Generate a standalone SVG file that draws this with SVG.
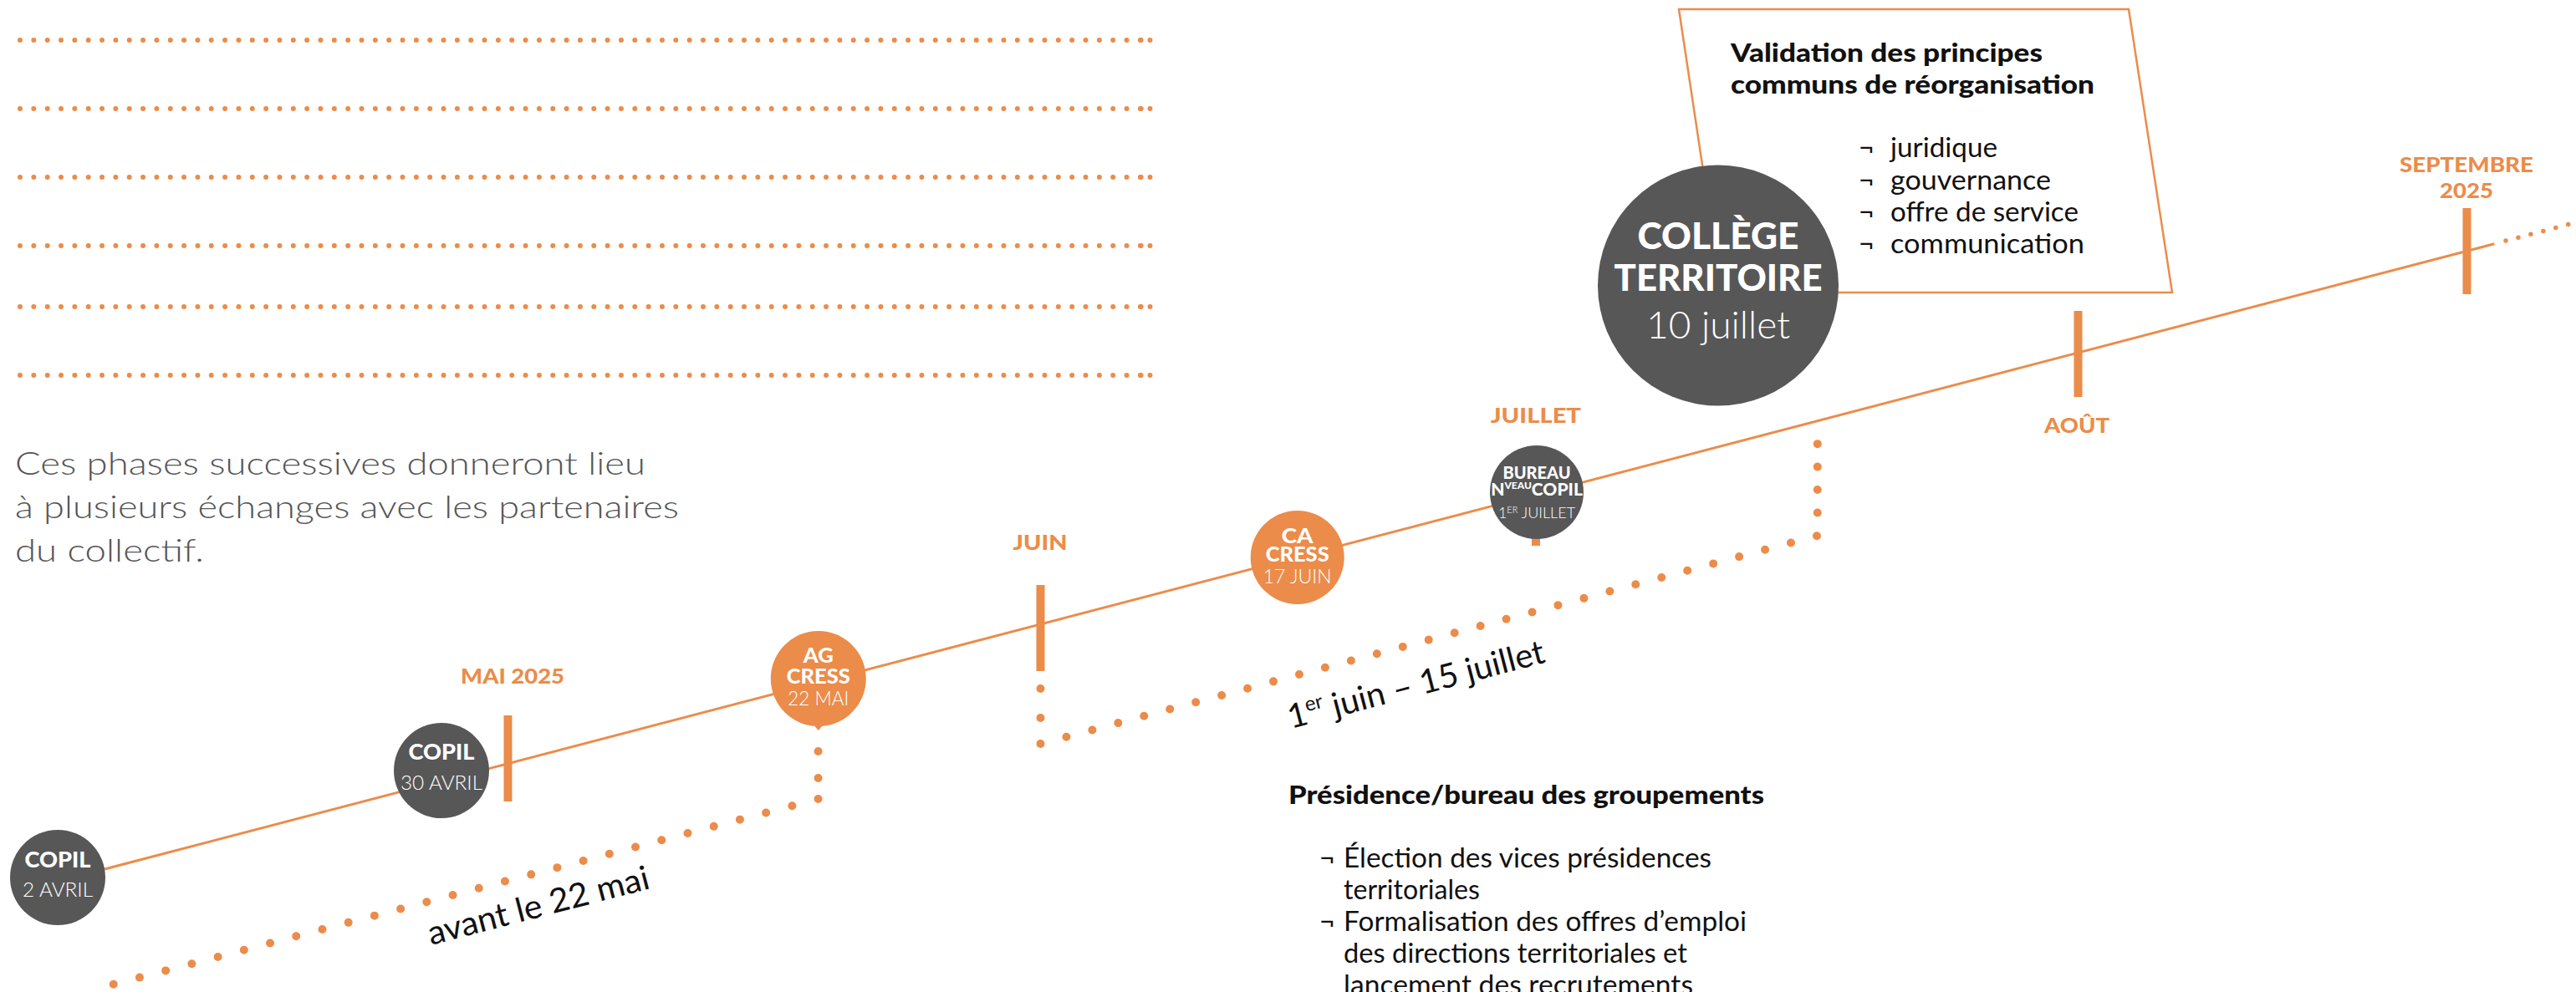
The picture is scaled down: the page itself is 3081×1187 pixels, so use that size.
<svg xmlns="http://www.w3.org/2000/svg" width="3081" height="1187" viewBox="0 0 3081 1187">
<style>
.dot{fill:none;stroke:#EB8C4A;stroke-linecap:round}
.tl{stroke:#EB8C4A;stroke-width:3;fill:none}
.tick{fill:#EB8C4A}
.month{font-family:Lato,'Open Sans',sans-serif;font-weight:900;fill:#EB8C4A;text-anchor:middle;font-size:25px}
.cg{fill:#575757}
.co{fill:#EB8C4A}
.ct{font-family:Lato,'Open Sans',sans-serif;fill:#fff;text-anchor:middle}
.b{font-weight:900}
.l{font-weight:300}
.body{font-family:Lato,'Open Sans',sans-serif;fill:#111}
.para{font-family:Lato,'Open Sans',sans-serif;font-weight:300;fill:#555;font-size:38px}
</style>
<rect width="3081" height="1187" fill="#fff"/>

<g id="header-dotted-lines">
<path class="dot" stroke-width="6" stroke-dasharray="0 16.34" d="M24 48H1364.7M24 130H1364.7M24 212H1364.7M24 294H1364.7M24 367H1364.7M24 449H1364.7"/>
<g fill="#EB8C4A"><circle cx="1364.7" cy="48" r="3"/><circle cx="1364.7" cy="130" r="3"/><circle cx="1364.7" cy="212" r="3"/><circle cx="1364.7" cy="294" r="3"/><circle cx="1364.7" cy="367" r="3"/><circle cx="1364.7" cy="449" r="3"/>
<circle cx="1375.5" cy="48" r="3"/><circle cx="1375.5" cy="130" r="3"/><circle cx="1375.5" cy="212" r="3"/><circle cx="1375.5" cy="294" r="3"/><circle cx="1375.5" cy="367" r="3"/><circle cx="1375.5" cy="449" r="3"/></g>
</g>

<g id="intro-text">
<text class="para" x="18" y="568" textLength="754" lengthAdjust="spacingAndGlyphs">Ces phases successives donneront lieu</text>
<text class="para" x="18" y="620" textLength="794" lengthAdjust="spacingAndGlyphs">à plusieurs échanges avec les partenaires</text>
<text class="para" x="18" y="672" textLength="226" lengthAdjust="spacingAndGlyphs">du collectif.</text>
</g>

<g id="connectors">
<path class="tl" d="M125 1040L2983.4 291.7"/>
<path class="dot" stroke-width="5.5" stroke-dasharray="0 15.45" d="M2997 288.1L3072 268.5"/>
<path class="dot" stroke-width="10" stroke-dasharray="0 31.95" d="M978.6 899V931"/>
<path class="dot" stroke-width="10" stroke-dasharray="0 32.28" d="M978.6 956L135 1178"/>
<path class="dot" stroke-width="10" stroke-dasharray="0 34.95" d="M1244.5 824V859"/>
<path class="dot" stroke-width="10" stroke-dasharray="0 32.04" d="M1244.5 890L2173.8 641"/>
<path class="dot" stroke-width="10" stroke-dasharray="0 27.45" d="M2173.8 613.5V531"/>
</g>

<g id="ticks">
<rect class="tick" x="602.5" y="856" width="10" height="103"/>
<rect class="tick" x="1239.5" y="700" width="10" height="103"/>
<rect class="tick" x="1832" y="550" width="10" height="103"/>
<rect class="tick" x="2480.5" y="372" width="10" height="103"/>
<rect class="tick" x="2945.5" y="249" width="10" height="103"/>
</g>

<g id="month-labels">
<text class="month" x="613" y="818" textLength="124" lengthAdjust="spacingAndGlyphs">MAI 2025</text>
<text class="month" x="1244" y="658" textLength="65" lengthAdjust="spacingAndGlyphs">JUIN</text>
<text class="month" x="1837" y="506" textLength="108" lengthAdjust="spacingAndGlyphs">JUILLET</text>
<text class="month" x="2484" y="518" textLength="78" lengthAdjust="spacingAndGlyphs">AOÛT</text>
<text class="month" x="2950" y="206" textLength="160" lengthAdjust="spacingAndGlyphs">SEPTEMBRE</text>
<text class="month" x="2950" y="237" textLength="64" lengthAdjust="spacingAndGlyphs">2025</text>
</g>

<g id="node-copil-2-avril">
<circle class="cg" cx="69" cy="1050" r="57"/>
<text class="ct b" x="69" y="1038" font-size="26" textLength="79" lengthAdjust="spacingAndGlyphs">COPIL</text>
<text class="ct l" x="69" y="1073" font-size="23" textLength="84" lengthAdjust="spacingAndGlyphs">2 AVRIL</text>
</g>

<g id="node-copil-30-avril">
<circle class="cg" cx="528" cy="922" r="57"/>
<text class="ct b" x="528" y="909" font-size="26" textLength="79" lengthAdjust="spacingAndGlyphs">COPIL</text>
<text class="ct l" x="528" y="945" font-size="23" textLength="98" lengthAdjust="spacingAndGlyphs">30 AVRIL</text>
</g>

<g id="node-ag-cress">
<circle class="co" cx="978.8" cy="812" r="57"/>
<path class="co" d="M972 866L978.8 874L985.6 866Z"/>
<text class="ct b" x="978.8" y="793" font-size="24" textLength="36" lengthAdjust="spacingAndGlyphs">AG</text>
<text class="ct b" x="978.8" y="818" font-size="24" textLength="76" lengthAdjust="spacingAndGlyphs">CRESS</text>
<text class="ct l" x="978.8" y="844" font-size="23" textLength="73" lengthAdjust="spacingAndGlyphs">22 MAI</text>
</g>

<g id="node-ca-cress">
<circle class="co" cx="1551.7" cy="667" r="56"/>
<text class="ct b" x="1551.7" y="650" font-size="24" textLength="38" lengthAdjust="spacingAndGlyphs">CA</text>
<text class="ct b" x="1551.7" y="672" font-size="24" textLength="76" lengthAdjust="spacingAndGlyphs">CRESS</text>
<text class="ct l" x="1551.7" y="698" font-size="23" textLength="82" lengthAdjust="spacingAndGlyphs">17 JUIN</text>
</g>

<g id="node-bureau">
<circle class="cg" cx="1838" cy="589" r="56"/>
<text class="ct b" x="1838" y="573" font-size="20" textLength="81" lengthAdjust="spacingAndGlyphs">BUREAU</text>
<text class="ct b" x="1838" y="593" font-size="21">N<tspan font-size="12" dy="-8">VEAU</tspan><tspan dy="8">COPIL</tspan></text>
<text class="ct l" x="1838" y="620" font-size="18">1<tspan font-size="11" dy="-6">ER</tspan><tspan dy="6"> JUILLET</tspan></text>
</g>

<g id="node-validation-box">
<polygon points="2008,11 2546,11 2598,350 2059,350" fill="#fff" stroke="#EB8C4A" stroke-width="2.5"/>
<text class="body b" x="2070" y="74" font-size="30" textLength="373" lengthAdjust="spacingAndGlyphs">Validation des principes</text>
<text class="body b" x="2070" y="112" font-size="30" textLength="435" lengthAdjust="spacingAndGlyphs">communs de réorganisation</text>
<g class="body" font-size="32">
<text x="2223" y="188">¬</text><text x="2261" y="188" textLength="128" lengthAdjust="spacingAndGlyphs">juridique</text>
<text x="2223" y="227">¬</text><text x="2261" y="227" textLength="192" lengthAdjust="spacingAndGlyphs">gouvernance</text>
<text x="2223" y="265">¬</text><text x="2261" y="265" textLength="225" lengthAdjust="spacingAndGlyphs">offre de service</text>
<text x="2223" y="303">¬</text><text x="2261" y="303" textLength="232" lengthAdjust="spacingAndGlyphs">communication</text>
</g>
</g>

<g id="node-college-territoire">
<circle class="cg" cx="2055" cy="341.5" r="144"/>
<text class="ct b" x="2055" y="298" font-size="43" textLength="193" lengthAdjust="spacingAndGlyphs">COLLÈGE</text>
<text class="ct b" x="2055" y="348" font-size="43" textLength="249" lengthAdjust="spacingAndGlyphs">TERRITOIRE</text>
<text class="ct l" x="2055" y="405" font-size="45" textLength="172" lengthAdjust="spacingAndGlyphs">10 juillet</text>
</g>

<g id="period-labels">
<text class="body" font-size="40" transform="translate(515.6 1131) rotate(-14.5)" textLength="272" lengthAdjust="spacingAndGlyphs">avant le 22 mai</text>
<text class="body" font-size="40" transform="translate(1544 872) rotate(-14.6)" textLength="316" lengthAdjust="spacingAndGlyphs">1<tspan font-size="24" dy="-15">er</tspan><tspan dy="15"> juin – 15 juillet</tspan></text>
</g>

<g id="node-presidence">
<text class="body b" x="1541" y="962" font-size="30" textLength="569" lengthAdjust="spacingAndGlyphs">Présidence/bureau des groupements</text>
<g class="body" font-size="32">
<text x="1578" y="1038">¬</text><text x="1607" y="1038" textLength="440" lengthAdjust="spacingAndGlyphs">Élection des vices présidences</text>
<text x="1607" y="1076" textLength="163" lengthAdjust="spacingAndGlyphs">territoriales</text>
<text x="1578" y="1114">¬</text><text x="1607" y="1114" textLength="482" lengthAdjust="spacingAndGlyphs">Formalisation des offres d’emploi</text>
<text x="1607" y="1152" textLength="411" lengthAdjust="spacingAndGlyphs">des directions territoriales et</text>
<text x="1607" y="1190" textLength="418" lengthAdjust="spacingAndGlyphs">lancement des recrutements</text>
</g>
</g>
</svg>
